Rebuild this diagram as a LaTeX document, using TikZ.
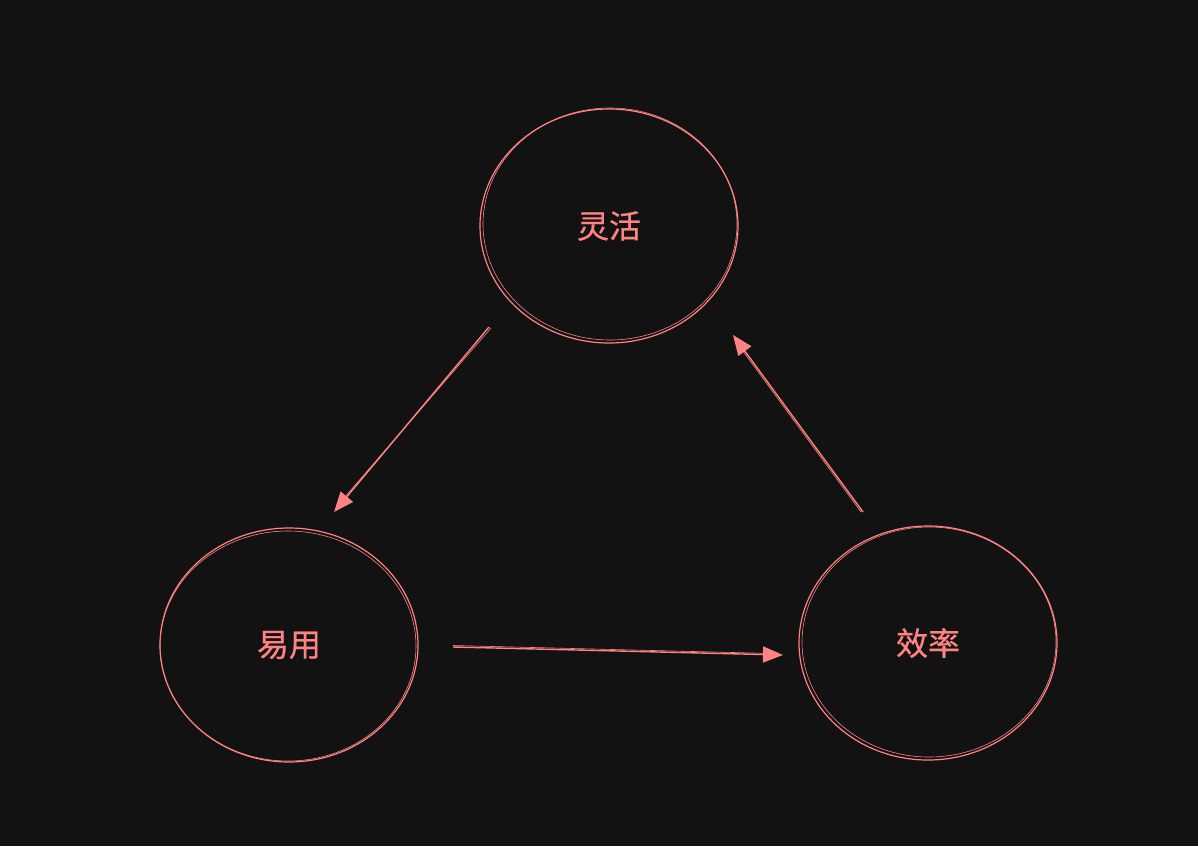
\documentclass[tikz,border=0pt]{standalone}
\usepackage{fontspec}
\newfontfamily\cjk[FakeBold=0.6]{Noto Sans CJK SC}
\usetikzlibrary{shapes.geometric,arrows.meta,calc}
\definecolor{bg}{HTML}{121212}
\definecolor{ink}{HTML}{FF8383}
\tikzset{
  circ/.style={ellipse, draw=ink, line width=1.2pt, minimum width=258pt, minimum height=234pt, inner sep=0pt,
    text=ink, font=\cjk\fontsize{32}{38}\selectfont},
  sketch/.style={draw=ink, line width=0.6pt},
  arr/.style={draw=ink, line width=1.4pt, -{Triangle[length=20pt,width=16pt]}},
  arrb/.style={draw=ink, line width=0.6pt}
}
\begin{document}
\begin{tikzpicture}[x=1pt,y=-1pt]
\fill[bg] (0,0) rectangle (1198,846);
\useasboundingbox (0,0) rectangle (1198,846);
\node[circ] (top) at (609,226) {灵活};
\node[circ] (left) at (289,645) {易用};
\node[circ] (right) at (928,643) {效率};
% sketchy second strokes
\draw[sketch] (610,224) ellipse [x radius=127pt, y radius=116pt];
\draw[sketch] (288,646) ellipse [x radius=128pt, y radius=115pt];
\draw[sketch] (929,642) ellipse [x radius=127pt, y radius=115pt];
% connector end points
\coordinate (t1) at ($(top)+(-120,101)$);
\coordinate (l1) at ($(left)+(45,-133)$);
\coordinate (l2) at ($(left)+(164,2)$);
\coordinate (r1) at ($(right)+(-145,12)$);
\coordinate (r2) at ($(right)+(-65,-131)$);
\coordinate (t2) at ($(top)+(124,109)$);
\draw[arr] (t1) -- (l1);
\draw[arr] (l2) -- (r1);
\draw[arr] (r2) -- (t2);
\draw[arrb] ($(t1)+(2,1)$) -- ($(l1)+(3,-6)$);
\draw[arrb] ($(l2)+(0,-1.5)$) -- ($(r1)+(-10,-1.5)$);
\draw[arrb] ($(r2)+(-2,0)$) -- ($(t2)+(4,8)$);
\end{tikzpicture}
\end{document}
